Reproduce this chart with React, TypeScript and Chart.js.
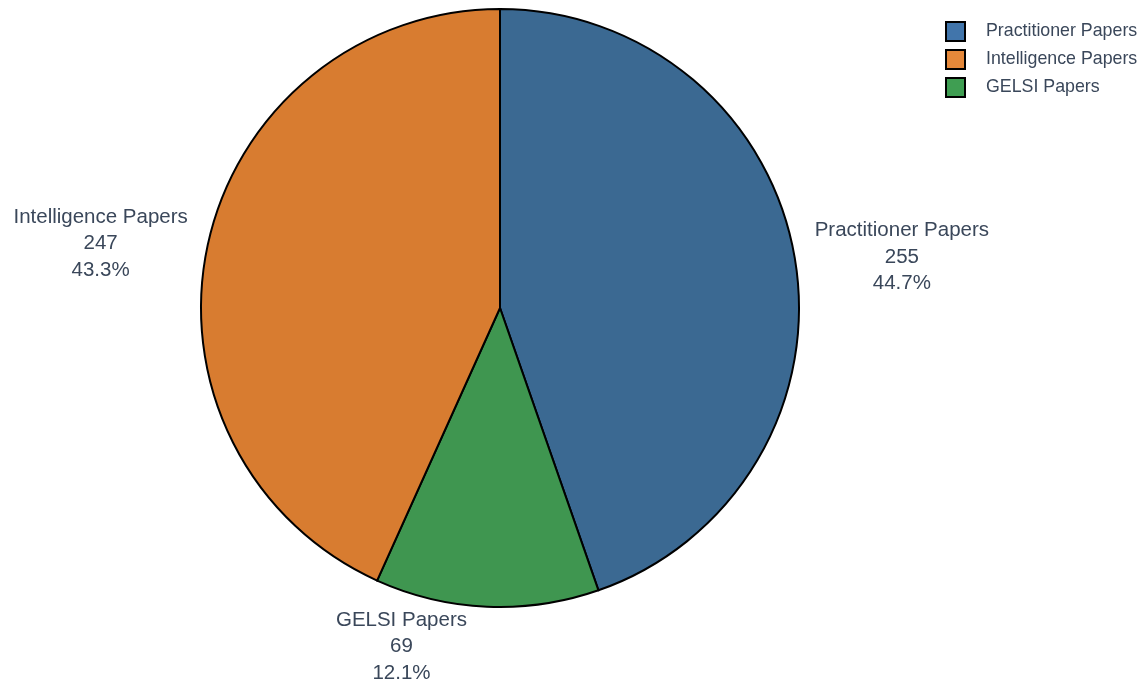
import React, { useEffect, useRef } from "react";
import { Chart, registerables } from "chart.js";

Chart.register(...registerables);

// Data (legend order)
const categories: string[] = ["Practitioner Papers", "Intelligence Papers", "GELSI Papers"];
const values: number[] = [255, 247, 69];
const sliceColors: string[] = ["#3b6992", "#d87c30", "#3f9650"];
const legendColors: string[] = ["#4175ab", "#e5883a", "#3f9e52"];
// Order in which slices are drawn clockwise from 12 o'clock
const sliceOrder: number[] = [0, 2, 1];

const TEXT_COLOR = "#3a475a";
const FONT_FAMILY = "'Liberation Sans', Arial, sans-serif";

const labelPlugin = {
  id: "outsideLabels",
  afterDraw(chart: any) {
    const ctx: CanvasRenderingContext2D = chart.ctx;
    const meta = chart.getDatasetMeta(0);
    const total = values.reduce((a, b) => a + b, 0);
    const fontSize = 20.5;
    const lineH = 26.5;
    ctx.save();
    ctx.font = `${fontSize}px ${FONT_FAMILY}`;
    ctx.fillStyle = TEXT_COLOR;
    ctx.textAlign = "center";
    ctx.textBaseline = "middle";
    meta.data.forEach((arc: any, k: number) => {
      const idx = sliceOrder[k];
      const p = arc.getProps(["x", "y", "startAngle", "endAngle", "outerRadius"], true);
      const mid = (p.startAngle + p.endAngle) / 2;
      const px = Math.cos(mid) * p.outerRadius;
      const py = Math.sin(mid) * p.outerRadius;
      const lines = [
        categories[idx],
        String(values[idx]),
        ((values[idx] / total) * 100).toFixed(1) + "%",
      ];
      const w = Math.max(...lines.map((s) => ctx.measureText(s).width));
      const h = lines.length * lineH;
      let dx = w / 2;
      let dy = h / 2;
      if (px < 0) dx = -dx;
      if (py < 0) dy = -dy;
      const ox = dx + (Math.abs(dy) * (dx > 0 ? 1 : -1)) / 2;
      const oy = dy / (1 + (px * px) / (py * py));
      const cx = p.x + px + ox;
      const cy = p.y + py + oy;
      lines.forEach((s, i) => {
        ctx.fillText(s, cx, cy + (i - (lines.length - 1) / 2) * lineH);
      });
    });

    // Legend
    const legendLeft = chart.width - 199;
    const legendTop = 31.5;
    const rowH = 28;
    const box = 19;
    ctx.font = `17.8px ${FONT_FAMILY}`;
    ctx.textAlign = "left";
    categories.forEach((name, i) => {
      const cy = legendTop + i * rowH;
      ctx.fillStyle = legendColors[i];
      ctx.fillRect(legendLeft, cy - box / 2, box, box);
      ctx.lineWidth = 2;
      ctx.strokeStyle = "#000000";
      ctx.strokeRect(legendLeft, cy - box / 2, box, box);
      ctx.fillStyle = TEXT_COLOR;
      ctx.fillText(name, legendLeft + 40, cy);
    });
    ctx.restore();
  },
};

export default function App() {
  const canvasRef = useRef<HTMLCanvasElement | null>(null);

  useEffect(() => {
    if (!canvasRef.current) return;
    const chart = new Chart(canvasRef.current, {
      type: "pie",
      data: {
        labels: sliceOrder.map((i) => categories[i]),
        datasets: [
          {
            data: sliceOrder.map((i) => values[i]),
            backgroundColor: sliceOrder.map((i) => sliceColors[i]),
            borderColor: "#000000",
            borderWidth: 2,
            borderJoinStyle: "miter",
          } as any,
        ],
      },
      options: {
        animation: false,
        responsive: true,
        maintainAspectRatio: false,
        layout: { padding: { top: 8, bottom: 78, left: 0, right: 145 } },
        plugins: {
          legend: { display: false },
          tooltip: { enabled: false },
        },
      },
      plugins: [labelPlugin],
    });
    return () => chart.destroy();
  }, []);

  return (
    <div
      style={{
        position: "absolute",
        left: 0,
        top: 0,
        width: 1145,
        height: 686,
        background: "#ffffff",
      }}
    >
      <canvas ref={canvasRef} />
    </div>
  );
}
